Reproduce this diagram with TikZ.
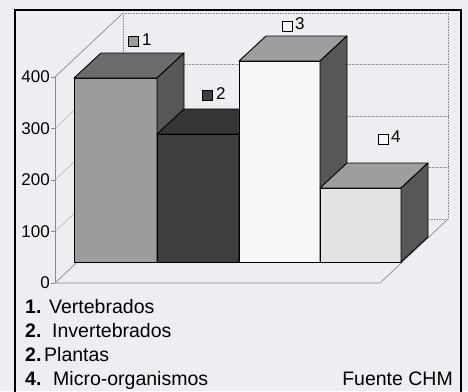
\documentclass[tikz,border=0pt]{standalone}
\usepackage{fontspec}
\setmainfont{Liberation Sans}
\definecolor{bg}{HTML}{ECEEF2}
\definecolor{bonefront}{HTML}{9C9C9C}
\definecolor{bonetop}{HTML}{6C6C6C}
\definecolor{bside}{HTML}{575757}
\definecolor{btwofront}{HTML}{3E3E3E}
\definecolor{btwotop}{HTML}{363636}
\definecolor{bthreefront}{HTML}{F7F7F7}
\definecolor{bmidtop}{HTML}{9E9E9E}
\definecolor{bfourfront}{HTML}{E3E3E3}
\definecolor{gridc}{HTML}{8A8A8A}
\newcommand\chmbar[6]{%
  \filldraw[barline,fill=#4] (#1,#3) rectangle (#2,262);
  \filldraw[barline,fill=#5] (#1,#3) -- (#1+27,#3-25) -- (#2+27,#3-25) -- (#2,#3) -- cycle;
  \filldraw[barline,fill=#6] (#2,#3) -- (#2+27,#3-25) -- (#2+27,237) -- (#2,262) -- cycle;
}
\begin{document}
\begin{tikzpicture}[x=1pt,y=-1pt,
  barline/.style={draw=black,line width=0.9pt,line join=round},
  gridline/.style={draw=gridc,densely dotted,line width=0.6pt},
  wallline/.style={draw=gridc!70,line width=0.5pt},
  axisline/.style={draw=gridc,line width=0.7pt},
  ticklab/.style={anchor=east,inner sep=0pt,font=\fontsize{17}{17}\selectfont},
  legsq/.style={draw=black,line width=0.6pt,minimum size=10pt,inner sep=0pt},
  leglab/.style={anchor=west,inner sep=0pt,font=\fontsize{17}{17}\selectfont},
  txt/.style={anchor=base west,inner sep=0pt,font=\fontsize{19.5}{19.5}\selectfont}]
\useasboundingbox[fill=bg] (0,0) rectangle (468,391);
% back wall
\draw[gridline] (123,13) -- (448,13) -- (448,219);
\foreach \yy in {64,116,167} \draw[gridline] (123,\yy) -- (448,\yy);
\draw[gridline] (123,13) -- (123,219) -- (448,219);
% side wall diagonals
\draw[axisline] (55,77) -- (123,13);
\foreach \k in {1,2,3} \draw[wallline] (55,77+51.5*\k) -- (123,13+51.5*\k);
% floor
\draw[axisline] (55,283) -- (123,219);
\draw[axisline] (55,283) -- (380,283) -- (448,219);
% vertical axis
\draw[axisline] (55,77) -- (55,283);
\foreach \k in {0,1,2,3,4} \draw[axisline] (51,77+51.5*\k) -- (55,77+51.5*\k);
\node[ticklab] (t400) at (50,77) {400};
\node[ticklab] (t300) at (50,128.5) {300};
\node[ticklab] (t200) at (50,180) {200};
\node[ticklab] (t100) at (50,231.5) {100};
\node[ticklab] (t0) at (50,283) {0};
% bars
\chmbar{74}{157}{78}{bonefront}{bonetop}{bside}
\chmbar{157}{239}{134}{btwofront}{btwotop}{bside}
\chmbar{239}{320}{61}{bthreefront}{bmidtop}{bside}
\chmbar{320}{401}{188}{bfourfront}{bmidtop}{bside}
% legend markers
\node[legsq,fill=bonefront] (k1) at (133,41) {};
\node[leglab] (l1) at (142,40) {1};
\node[legsq,fill=btwofront] (k2) at (207.5,95) {};
\node[leglab] (l2) at (216,94) {2};
\node[legsq,fill=bthreefront] (k3) at (287,26) {};
\node[leglab] (l3) at (295,24) {3};
\node[legsq,fill=bthreefront] (k4) at (383,139) {};
\node[leglab] (l4) at (391,137) {4};
% bottom texts
\node[txt] (n1) at (25,313) {\textbf{1.}};
\node[txt] (w1) at (49,313) {Vertebrados};
\node[txt] (n2) at (25,337) {\textbf{2.}};
\node[txt] (w2) at (52,337) {Invertebrados};
\node[txt] (n3) at (25,361) {\textbf{2.}};
\node[txt] (w3) at (44,361) {Plantas};
\node[txt] (n4) at (25,385) {\textbf{4.}};
\node[txt] (w4) at (53,385) {Micro-organismos};
\node[txt,anchor=base east] (src) at (453,385) {Fuente CHM};
% frame
\draw[line width=2pt] (15,400) -- (15,10) -- (461,10) -- (461,400);
\end{tikzpicture}
\end{document}
